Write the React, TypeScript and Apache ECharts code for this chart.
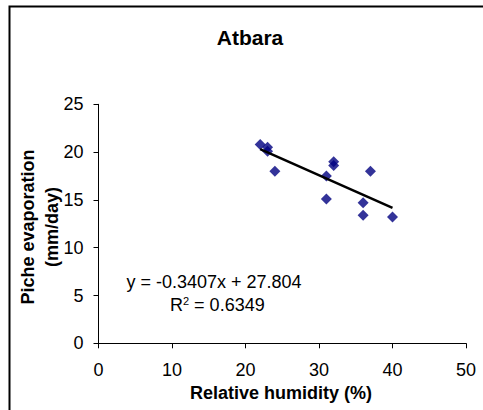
import React, { useEffect, useRef } from "react";
import * as echarts from "echarts";

const humidity = [22, 23, 23, 24, 32, 32, 31, 37, 31, 36, 36, 40];
const evaporation = [20.8, 20.5, 20.1, 18.0, 19.0, 18.6, 17.5, 18.0, 15.1, 14.7, 13.4, 13.2];
const trendSlope = -0.3407;
const trendIntercept = 27.804;
const trendRange = [22, 40];
const xTicks = { min: 0, max: 50, interval: 10 };
const yTicks = { min: 0, max: 25, interval: 5 };

const FONT = "'Liberation Sans', Arial, sans-serif";

export default function App() {
  const ref = useRef<HTMLDivElement>(null);
  useEffect(() => {
    if (!ref.current) return;
    const chart = echarts.init(ref.current, null, { renderer: "svg" });
    const points = humidity.map((x, i) => [x, evaporation[i]]);
    const trend = trendRange.map((x) => [x, trendSlope * x + trendIntercept]);
    chart.setOption({
      animation: false,
      backgroundColor: "#ffffff",
      textStyle: { fontFamily: FONT },
      grid: { left: 98.5, right: 17, top: 104.3, bottom: 66.7, containLabel: false },
      xAxis: {
        type: "value",
        min: xTicks.min,
        max: xTicks.max,
        interval: xTicks.interval,
        splitLine: { show: false },
        axisLine: { show: true, onZero: false, lineStyle: { color: "#000", width: 1 } },
        axisTick: { show: true, inside: false, length: 5, lineStyle: { color: "#000" } },
        axisLabel: { color: "#000", fontSize: 18, fontFamily: FONT, margin: 18 },
      },
      yAxis: {
        type: "value",
        min: yTicks.min,
        max: yTicks.max,
        interval: yTicks.interval,
        splitLine: { show: false },
        axisLine: { show: true, onZero: false, lineStyle: { color: "#000", width: 1 } },
        axisTick: { show: true, inside: false, length: 5, lineStyle: { color: "#000" } },
        axisLabel: { color: "#000", fontSize: 18, fontFamily: FONT, margin: 15 },
      },
      series: [
        {
          type: "scatter",
          data: points,
          symbol: "diamond",
          symbolSize: 11,
          itemStyle: { color: "#000080" },
          z: 2,
        },
        {
          type: "line",
          data: trend,
          symbol: "none",
          lineStyle: { color: "#000", width: 2.5 },
          z: 3,
        },
      ],
      graphic: [
        {
          type: "rect",
          shape: { x: 9.5, y: 6.5, width: 600, height: 600 },
          style: { fill: "none", stroke: "#000", lineWidth: 2 },
          silent: true,
        },
        {
          type: "text",
          x: 250,
          y: 37,
          style: {
            text: "Atbara",
            fontFamily: FONT,
            fontSize: 21,
            fontWeight: "bold",
            fill: "#000",
            textAlign: "center",
            textVerticalAlign: "middle",
          },
        },
        {
          type: "text",
          x: 40,
          y: 227,
          rotation: Math.PI / 2,
          style: {
            text: "Piche evaporation\n(mm/day)",
            fontFamily: FONT,
            fontSize: 18,
            fontWeight: "bold",
            lineHeight: 24,
            fill: "#000",
            textAlign: "center",
            textVerticalAlign: "middle",
          },
        },
        {
          type: "text",
          x: 281,
          y: 393,
          style: {
            text: "Relative humidity (%)",
            fontFamily: FONT,
            fontSize: 18,
            fontWeight: "bold",
            fill: "#000",
            textAlign: "center",
            textVerticalAlign: "middle",
          },
        },
        {
          type: "text",
          x: 126.5,
          y: 282,
          style: {
            text: "y = -0.3407x + 27.804",
            fontFamily: FONT,
            fontSize: 18,
            fill: "#000",
            textAlign: "left",
            textVerticalAlign: "middle",
          },
        },
        {
          type: "text",
          x: 170,
          y: 305,
          style: {
            text: "R{sup|2} = 0.6349",
            fontFamily: FONT,
            fontSize: 18,
            fill: "#000",
            textAlign: "left",
            textVerticalAlign: "middle",
            rich: {
              sup: { fontSize: 11, fontFamily: FONT, fill: "#000", verticalAlign: "top", padding: [0, 0, 8, 0] },
            },
          },
        },
      ],
    });
    return () => chart.dispose();
  }, []);
  return (
    <div
      ref={ref}
      style={{ position: "fixed", left: 0, top: 0, width: 483, height: 410 }}
    />
  );
}
